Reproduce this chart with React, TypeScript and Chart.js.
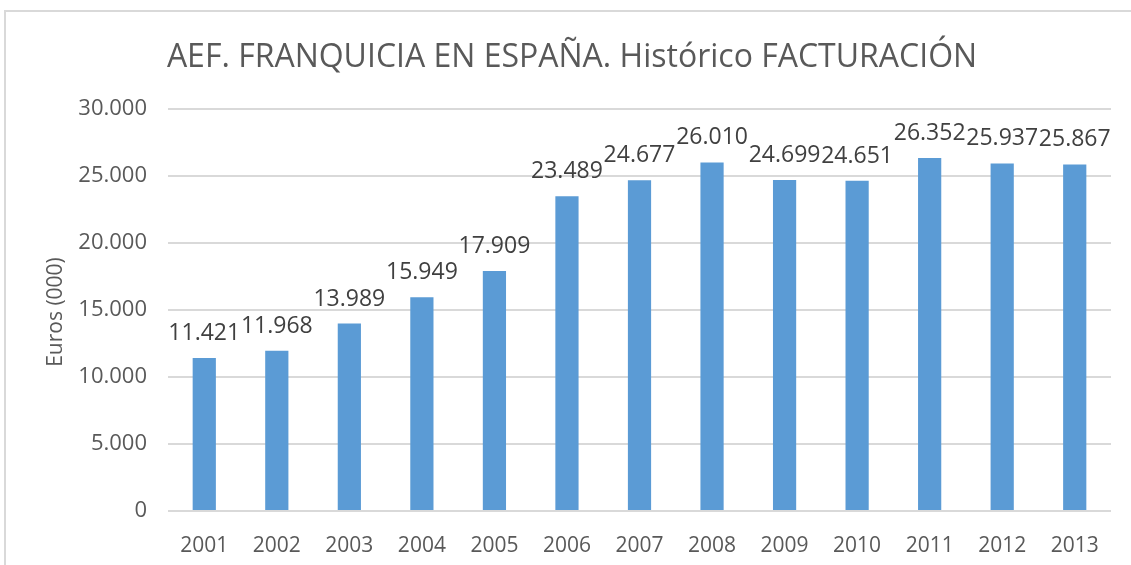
import React, { useEffect, useRef } from "react";
import { Chart, registerables } from "chart.js";

Chart.register(...registerables);

const years = ["2001", "2002", "2003", "2004", "2005", "2006", "2007", "2008", "2009", "2010", "2011", "2012", "2013"];
const facturacion = [11421, 11968, 13989, 15949, 17909, 23489, 24677, 26010, 24699, 24651, 26352, 25937, 25867];
const titleText = "AEF. FRANQUICIA EN ESPAÑA. Histórico FACTURACIÓN";
const yAxisTitle = "Euros (000)";

const FONT = "'Open Sans', 'Noto Sans', sans-serif";

function fmt(v: number): string {
  const s = Math.round(v).toString();
  return s.replace(/\B(?=(\d{3})+(?!\d))/g, ".");
}

const customPlugin = {
  id: "customDraw",
  beforeDraw(chart: any) {
    const ctx = chart.ctx;
    ctx.save();
    ctx.fillStyle = "#ffffff";
    ctx.fillRect(0, 0, chart.width, chart.height);
    ctx.strokeStyle = "#d9d9d9";
    ctx.lineWidth = 2;
    ctx.beginPath();
    ctx.moveTo(5, chart.height);
    ctx.lineTo(5, 11);
    ctx.lineTo(chart.width, 11);
    ctx.stroke();
    ctx.restore();
  },
  afterDatasetsDraw(chart: any) {
    const ctx = chart.ctx;
    ctx.save();
    // data labels
    const meta = chart.getDatasetMeta(0);
    ctx.fillStyle = "#404040";
    ctx.font = `23px ${FONT}`;
    ctx.textAlign = "center";
    ctx.textBaseline = "alphabetic";
    meta.data.forEach((bar: any, i: number) => {
      ctx.fillText(fmt(chart.data.datasets[0].data[i]), bar.x, bar.y - 18);
    });
    // title
    ctx.fillStyle = "#595959";
    ctx.font = `32px ${FONT}`;
    ctx.textAlign = "center";
    ctx.fillText(titleText, 572, 67);
    // y axis title
    ctx.translate(56, 312);
    ctx.rotate(-Math.PI / 2);
    ctx.font = `21px ${FONT}`;
    ctx.textBaseline = "middle";
    ctx.fillText(yAxisTitle, 0, 0);
    ctx.restore();
  },
};

export default function App() {
  const ref = useRef<HTMLCanvasElement | null>(null);
  useEffect(() => {
    if (!ref.current) return;
    const chart = new Chart(ref.current, {
      type: "bar",
      data: {
        labels: years,
        datasets: [
          {
            data: facturacion,
            backgroundColor: "#5b9bd5",
            barPercentage: 0.32,
            categoryPercentage: 1,
          },
        ],
      },
      options: {
        animation: false,
        responsive: false,
        layout: { padding: { top: 109, right: 20, left: 0, bottom: 0 } },
        plugins: { legend: { display: false }, tooltip: { enabled: false }, title: { display: false } },
        scales: {
          x: {
            grid: { display: false },
            border: { display: false },
            ticks: { color: "#595959", font: { family: FONT, size: 21 }, padding: 14, maxRotation: 0 },
            afterFit(scale: any) {
              scale.height = 54;
            },
          },
          y: {
            min: 0,
            max: 30000,
            border: { display: false },
            grid: { color: "#d9d9d9", lineWidth: 2, drawTicks: false },
            ticks: {
              stepSize: 5000,
              color: "#595959",
              padding: 21,
              font: { family: FONT, size: 22 },
              callback: (v: any) => fmt(Number(v)),
            },
            afterFit(scale: any) {
              scale.width = 168;
            },
          },
        },
      },
      plugins: [customPlugin],
    });
    return () => chart.destroy();
  }, []);
  return (
    <div style={{ position: "absolute", left: 0, top: 0, width: 1131, height: 565 }}>
      <canvas ref={ref} width={1131} height={565} />
    </div>
  );
}
